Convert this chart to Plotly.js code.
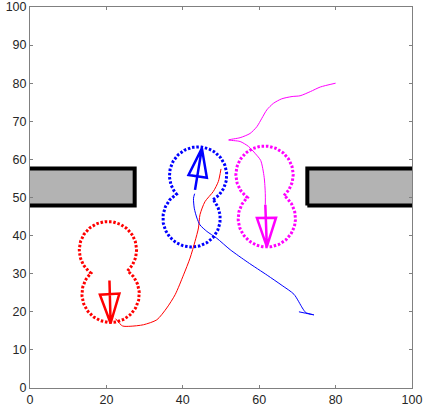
<!DOCTYPE html>
<html>
<head>
<meta charset="utf-8">
<script src="https://cdn.plot.ly/plotly-3.0.1.min.js"></script>
<style>
  html, body { margin: 0; padding: 0; background: #fff; }
  #plot { width: 423px; height: 409px; }
</style>
</head>
<body>
<div id="plot"></div>
<script>
// walls (gray boxes with black border)
var wallLeftX = [-3, 27.4, 27.4, -3, -3];
var wallRightX = [72.6, 103, 103, 72.6, 72.6];
var wallY = [47.9, 47.9, 57.6, 57.6, 47.9];

// robots: top circle centre, bottom circle centre, radius
var redBody = [20.4, 36.2, 21.1, 24.7, 7.5];
var blueBody = [44.0, 55.8, 42.3, 44.5, 7.5];
var magentaBody = [61.4, 56.0, 62.0, 44.5, 7.5];

// heading arrows: stem end, base left, base right, tip
var redArrowX = [20.8, 21.1, 18.3, 23.4, 21.1];
var redArrowY = [28.2, 17.0, 24.5, 24.8, 17.0];
var blueArrowX = [43.2, 45.0, 41.5, 46.3, 45.0];
var blueArrowY = [52.0, 62.9, 55.9, 55.2, 62.9];
var magentaArrowX = [61.6, 62.0, 59.4, 64.4, 62.0];
var magentaArrowY = [48.1, 37.1, 44.6, 44.7, 37.1];

// trajectories
var redPathX = [50, 49.3, 48, 45.8, 44.5, 44.1, 43.2, 41.9, 40.2, 38, 35.8, 33.2, 29.7, 26.2, 24.2, 22.4];
var redPathY = [57.5, 54.2, 51.6, 48.9, 45.5, 42, 38.5, 34.1, 29.7, 24.5, 21, 17.9, 16.6, 16.2, 16.3, 18.2];
var bluePathX = [43.1, 42.8, 43, 43.7, 44.5, 46.3, 48.9, 52.4, 57, 62.1, 66, 69.1, 71.3, 72.2, 74.3, 70.4];
var bluePathY = [51, 49.8, 47.2, 44.6, 42.8, 41.1, 39.3, 36.3, 33, 29.6, 26.9, 24.6, 21, 19.8, 19.2, 20];
var magentaPathX = [80, 76, 73.4, 70.7, 68.6, 65.9, 63.7, 62, 60.7, 59.4, 57.6, 55, 52, 55, 57.2, 59, 60.4, 61.3, 61.6, 61.6];
var magentaPathY = [80, 79, 77.8, 76.7, 76.5, 75.9, 74.7, 73, 70.8, 68.6, 66.8, 65.7, 65.1, 64.7, 63.4, 61.5, 59.7, 55.3, 51, 48.1];

// outline of two overlapping circles (outer arcs only)
function peanut(b) {
    var x1 = b[0], y1 = b[1], x2 = b[2], y2 = b[3], r = b[4];
    var dx = x2 - x1, dy = y2 - y1;
    var d = Math.sqrt(dx * dx + dy * dy);
    var th = Math.atan2(dy, dx);
    var a = Math.acos(d / 2 / r);
    var xs = [], ys = [];
    var n = 120;
    for (var i = 0; i <= n; i++) {
        var t = th + a + (2 * Math.PI - 2 * a) * i / n;
        xs.push(x1 + r * Math.cos(t));
        ys.push(y1 + r * Math.sin(t));
    }
    for (var j = 0; j <= n; j++) {
        var t2 = th + Math.PI + a + (2 * Math.PI - 2 * a) * j / n;
        xs.push(x2 + r * Math.cos(t2));
        ys.push(y2 + r * Math.sin(t2));
    }
    return {x: xs, y: ys};
}

function wall(xs) {
    return {
        x: xs, y: wallY, mode: 'lines', fill: 'toself',
        fillcolor: '#b3b3b3', line: {color: '#000', width: 4},
        hoverinfo: 'skip'
    };
}

function body(b, color) {
    var p = peanut(b);
    return {
        x: p.x, y: p.y, mode: 'lines',
        line: {color: color, width: 3, dash: '2.5px,1.8px'},
        hoverinfo: 'skip'
    };
}

function path(xs, ys, color) {
    return {
        x: xs, y: ys, mode: 'lines',
        line: {color: color, width: 1, shape: 'spline', smoothing: 0.7},
        hoverinfo: 'skip'
    };
}

function arrow(xs, ys, color) {
    return {
        x: xs, y: ys, mode: 'lines',
        line: {color: color, width: 2.5},
        hoverinfo: 'skip'
    };
}

var data = [
    wall(wallLeftX),
    wall(wallRightX),
    body(redBody, '#ff0000'),
    body(blueBody, '#0000ff'),
    body(magentaBody, '#ff00ff'),
    path(redPathX, redPathY, '#ff0000'),
    path(bluePathX, bluePathY, '#0000ff'),
    path(magentaPathX, magentaPathY, '#ff00ff'),
    arrow(redArrowX, redArrowY, '#ff0000'),
    arrow(blueArrowX, blueArrowY, '#0000ff'),
    arrow(magentaArrowX, magentaArrowY, '#ff00ff')
];

var axisStyle = {
    range: [0, 100],
    showgrid: false,
    zeroline: false,
    showline: true,
    linecolor: '#808080',
    linewidth: 1,
    mirror: 'ticks',
    ticks: 'inside',
    ticklen: 3,
    tickcolor: '#808080',
    ticklabeloverflow: 'allow',
    tickfont: {family: 'Liberation Sans, Arial, sans-serif', size: 12.5, color: '#262626'}
};

var layout = {
    width: 423,
    height: 409,
    margin: {l: 30, r: 11, t: 7, b: 21},
    paper_bgcolor: '#fff',
    plot_bgcolor: '#fff',
    showlegend: false,
    xaxis: Object.assign({}, axisStyle, {dtick: 20, tick0: 0}),
    yaxis: Object.assign({}, axisStyle, {dtick: 10, tick0: 0})
};

Plotly.newPlot('plot', data, layout, {displayModeBar: false, staticPlot: true});
</script>
</body>
</html>
